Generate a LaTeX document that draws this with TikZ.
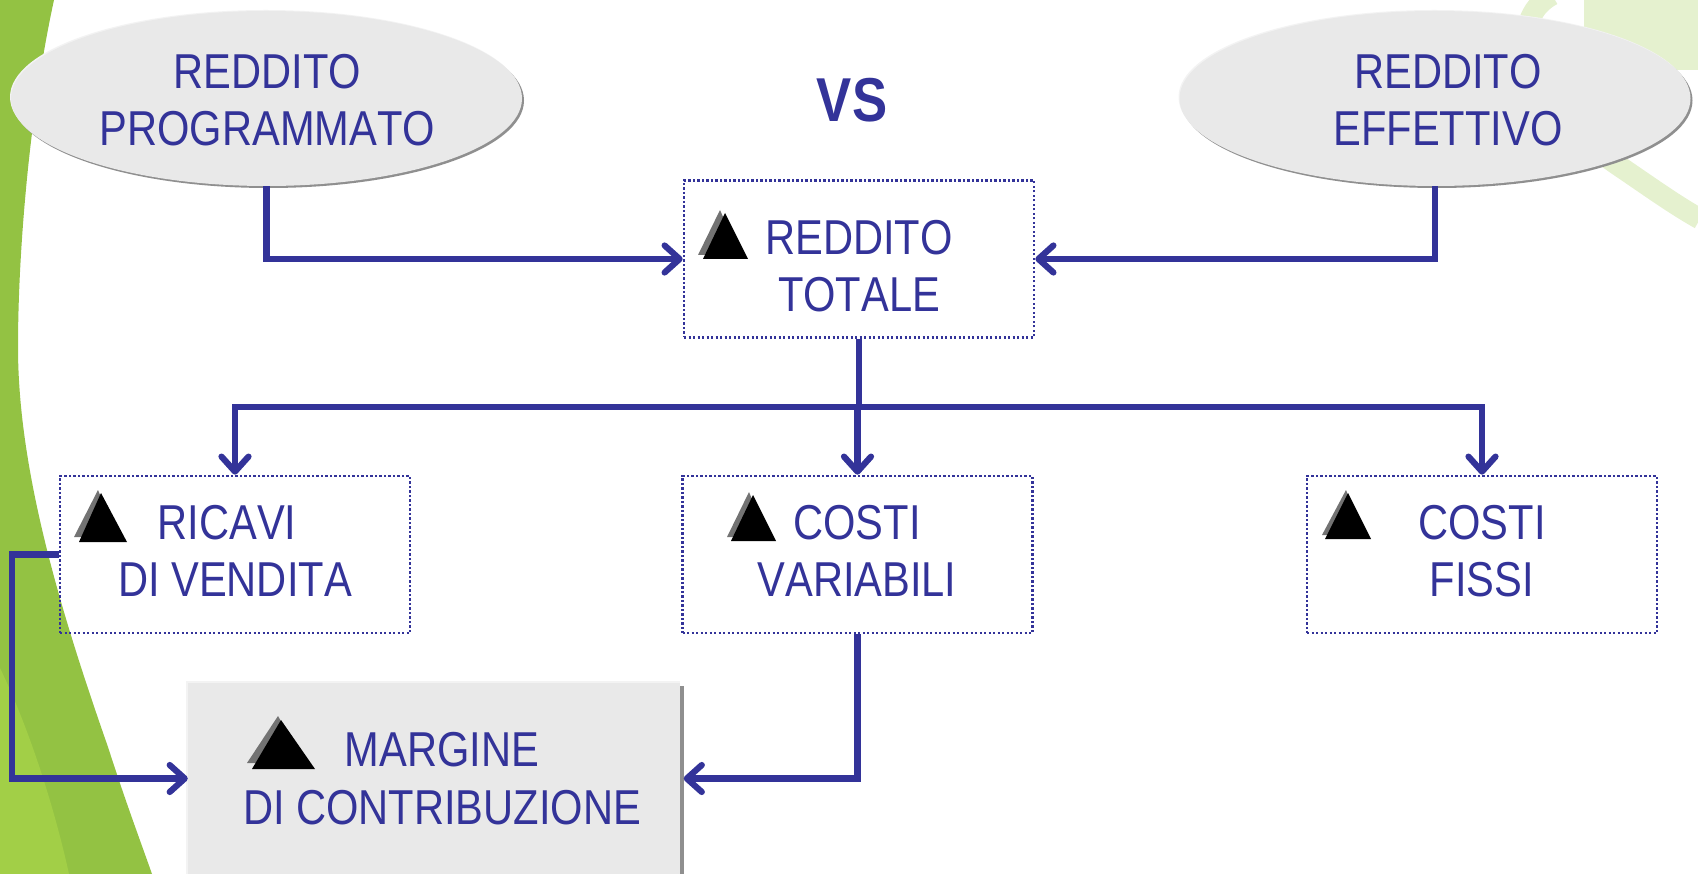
\documentclass[tikz,border=0pt]{standalone}
\usepackage{fontspec}
\setmainfont{Liberation Sans}[FakeStretch=0.85,Kerning=Off]
\usetikzlibrary{arrows.meta,shapes.geometric}
\definecolor{ink}{HTML}{333399}
\definecolor{panel}{HTML}{E9E9E9}
\definecolor{panellight}{HTML}{F3F3F3}
\definecolor{panelshade}{HTML}{8F8F8F}
\definecolor{leafdark}{HTML}{93C243}
\definecolor{leaflight}{HTML}{A2CF47}
\definecolor{leafpale}{HTML}{E5F1CF}
\tikzset{
  dotbox/.style={draw=ink,line width=2.6pt,dash pattern=on 2.4pt off 2.1pt,
    minimum width=350pt,minimum height=157pt,inner sep=0pt},
  oval/.style={ellipse,fill=panel,minimum width=511pt,minimum height=175pt,inner sep=0pt},
  lab/.style={text=ink,align=center,inner sep=0pt,font=\fontsize{49}{57.5}\selectfont},
  link/.style={draw=ink,line width=6.2pt},
  flow/.style={link,-{Straight Barb[length=15pt,width=27pt,round]}},
  tri/.style={fill=black},
  trishade/.style={fill=black!55},
}
\begin{document}
\begin{tikzpicture}[x=1pt,y=-1pt]
  \useasboundingbox (0,0) rectangle (1698,874);

  % leaf shapes behind the chart
  \fill[leafdark] (0,0) -- (54,0) .. controls (30,110) and (18,250) .. (18,347)
     .. controls (18,470) and (60,610) .. (108,747)
     .. controls (125,800) and (140,840) .. (152,874) -- (0,874) -- cycle;
  \fill[leaflight] (0,668) .. controls (30,730) and (55,810) .. (69,874) -- (0,874) -- cycle;
  \fill[leafpale] (1584,0) rectangle (1698,70);
  \draw[leafpale,line width=21pt] (1552,-5) .. controls (1505,20) and (1520,100) .. (1622,168)
     .. controls (1650,187) and (1675,205) .. (1700,219);

  % ovals
  \fill[panelshade] (268.5,100.5) ellipse [x radius=255.5pt,y radius=87.5pt];
  \fill[panellight] (265.5,97) ellipse [x radius=255.5pt,y radius=87pt];
  \node[oval] (redprog) at (266.5,98.5) {};
  \fill[panelshade] (1437,100.5) ellipse [x radius=255.5pt,y radius=87.5pt];
  \fill[panellight] (1434,97) ellipse [x radius=255.5pt,y radius=87pt];
  \node[oval] (redeff) at (1435,98.5) {};

  \node[lab] (redprogl) at (267.5,100) {REDDITO\\PROGRAMMATO};
  \node[lab] (redeffl) at (1448,100) {REDDITO\\EFFETTIVO};
  \node[text=ink,inner sep=0pt,font=\fontsize{62}{70}\selectfont\bfseries] (vs) at (852,100) {VS};

  % boxes
  \node[dotbox] (rtot) at (859,259) {};
  \node[dotbox] (ricavi) at (235,554.5) {};
  \node[dotbox] (cvar) at (857.5,554.5) {};
  \node[dotbox] (fissi) at (1482,554.5) {};

  \node[lab] (rtotl) at (859,266) {REDDITO\\TOTALE};
  \node[lab] (ricavil1) at (227,523) {RICAVI};
  \node[lab] (ricavil2) at (235,580) {DI VENDITA};
  \node[lab] (cvarl) at (857,551) {COSTI\\VARIABILI};
  \node[lab] (fissil) at (1482,551) {COSTI\\FISSI};

  % margin panel, runs down to the page edge
  \fill[panelshade] (200,686) rectangle (684,874);
  \fill[panellight] (185.5,681) rectangle (679.5,874);
  \node[fill=panel,minimum width=491.5pt,minimum height=191pt,inner sep=0pt] (margine) at (433.75,778.5) {};
  \node[lab] (marginel1) at (442,750) {MARGINE};
  \node[lab] (marginel2) at (442,808) {DI CONTRIBUZIONE};

  % triangles
  \fill[trishade] (720,210) -- (698,255) -- (740,255) -- cycle;
  \fill[tri] (725,213) -- (703,259) -- (748,259) -- cycle;
  \fill[trishade] (98,490) -- (74,537) -- (118,537) -- cycle;
  \fill[tri] (101,493) -- (79,542) -- (127,542) -- cycle;
  \fill[trishade] (749,492) -- (727,537) -- (768,537) -- cycle;
  \fill[tri] (753,495) -- (731,541) -- (776,541) -- cycle;
  \fill[trishade] (1346,490) -- (1322,535) -- (1364,535) -- cycle;
  \fill[tri] (1348,493) -- (1325,539) -- (1371,539) -- cycle;
  \fill[trishade] (278,716) -- (247,763) -- (305,763) -- cycle;
  \fill[tri] (281,720) -- (252,769) -- (315,769) -- cycle;

  % connectors
  \coordinate (split) at (859,407);
  \coordinate (leftrun) at (12,778.5);
  \draw[flow] (redprog.south) |- (rtot.west);
  \draw[flow] (redeff.south) |- (rtot.east);
  \draw[link] (rtot.south) -- (split);
  \draw[flow] (split) -| (ricavi.north);
  \draw[flow] (split) -| (fissi.north);
  \draw[flow] (split -| cvar.north) -- (cvar.north);
  \draw[flow] (ricavi.west) -| (leftrun) -- (margine.west);
  \draw[flow] (cvar.south) |- ([xshift=4pt]margine.east);
\end{tikzpicture}
\end{document}
